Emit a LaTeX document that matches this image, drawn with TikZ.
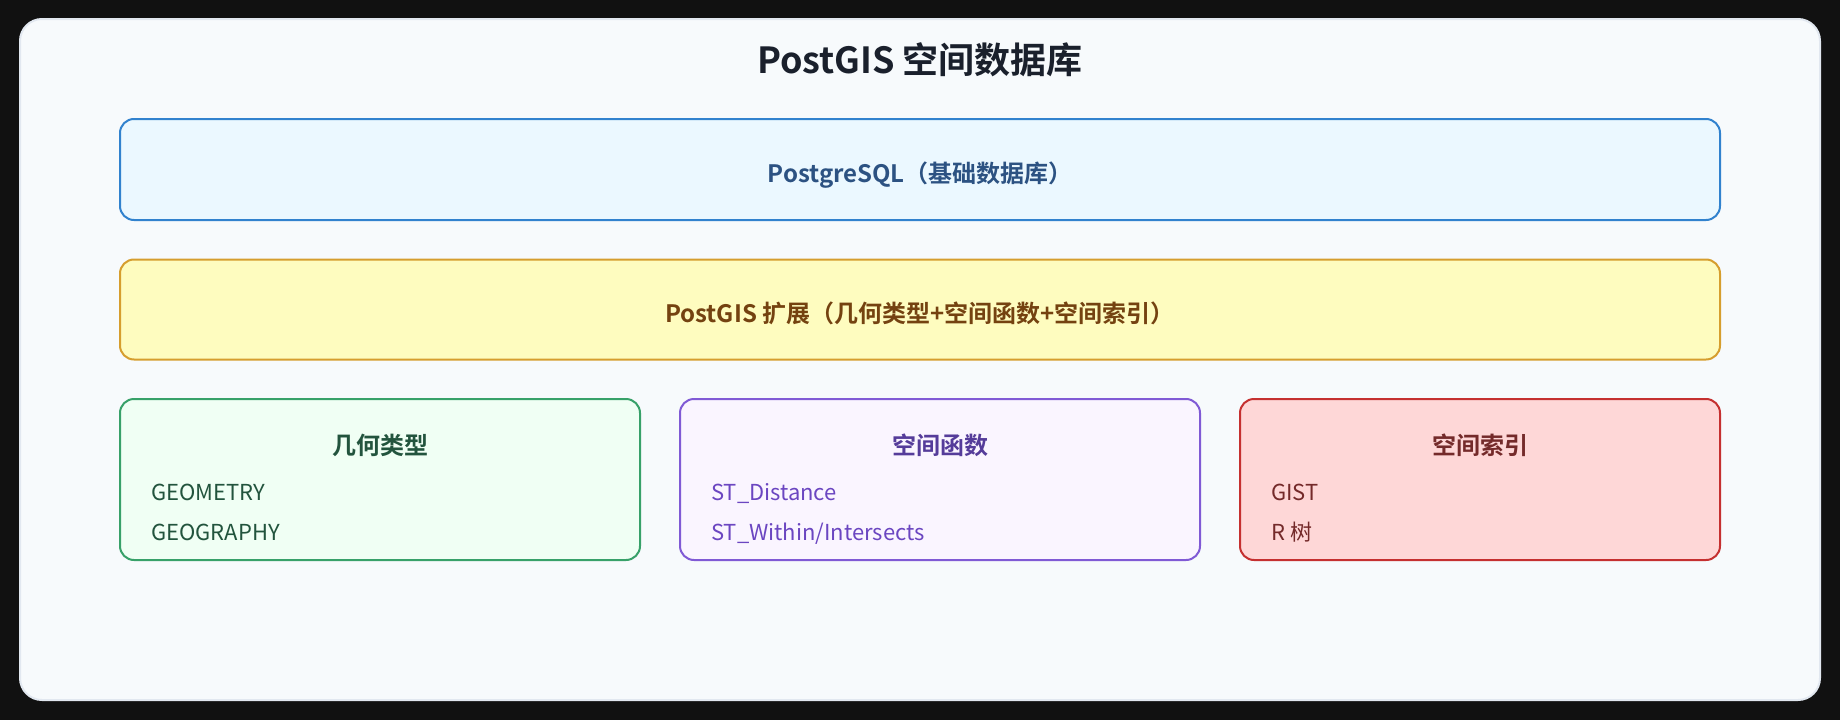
\documentclass[tikz,border=0pt]{standalone}
\usepackage{fontspec}
\setmainfont{Noto Sans CJK SC}[BoldFont={Noto Sans CJK SC Bold}]
\usetikzlibrary{positioning}

\definecolor{pagedark}{HTML}{111111}
\definecolor{cardfill}{HTML}{F7FAFC}
\definecolor{cardline}{HTML}{E2E8F0}
\definecolor{titletext}{HTML}{1A202C}
\definecolor{pgfill}{HTML}{EBF8FF}
\definecolor{pgline}{HTML}{3182CE}
\definecolor{pgtext}{HTML}{2C5282}
\definecolor{extfill}{HTML}{FEFCBF}
\definecolor{extline}{HTML}{D69E2E}
\definecolor{exttext}{HTML}{744210}
\definecolor{geomfill}{HTML}{F0FFF4}
\definecolor{geomline}{HTML}{38A169}
\definecolor{geomtext}{HTML}{22543D}
\definecolor{funcfill}{HTML}{FAF5FF}
\definecolor{funcline}{HTML}{805AD5}
\definecolor{functitle}{HTML}{553C9A}
\definecolor{functext}{HTML}{6B46C1}
\definecolor{idxfill}{HTML}{FED7D7}
\definecolor{idxline}{HTML}{C53030}
\definecolor{idxtext}{HTML}{742A2A}

\begin{document}
\begin{tikzpicture}[x=1pt, y=-1pt,
			layer/.style={draw, rectangle, rounded corners=14pt, line width=2pt, minimum width=1600pt, minimum height=100pt, text height=26pt, text depth=0pt, font=\fontsize{24}{28}\selectfont\bfseries},
			part/.style={draw, rectangle, rounded corners=14pt, line width=2pt, minimum width=520pt, minimum height=161pt},
			parttitle/.style={font=\fontsize{24}{28}\selectfont\bfseries},
			item/.style={anchor=base west, inner sep=0pt, font=\fontsize{22}{26}\selectfont}]
			\fill[pagedark] (0, 0) rectangle (1840, 720);
			\draw[fill=cardfill, draw=cardline, line width=2pt, rounded corners=22pt] (20, 19) rectangle (1820, 700);
			
			\node[text=titletext, font=\fontsize{36}{42}\selectfont\bfseries](title) at (920, 60) {PostGIS 空间数据库};
			
			\node[layer, fill=pgfill, draw=pgline, text=pgtext, minimum height=101pt](postgres) at (920, 169.5) {PostgreSQL（基础数据库）};
			
			\node[layer, fill=extfill, draw=extline, text=exttext](extension) at (920, 309.5) {PostGIS 扩展（几何类型+空间函数+空间索引）};
			
			\node[part, fill=geomfill, draw=geomline](geometry) at (380, 479.5) {};
			\node[parttitle, text=geomtext](geomtitle) at (380, 445) {几何类型};
			\node[item, text=geomtext](geomitem1) at (151, 500) {GEOMETRY};
			\node[item, text=geomtext](geomitem2) at (151, 540) {GEOGRAPHY};
			
			\node[part, fill=funcfill, draw=funcline](functions) at (940, 479.5) {};
			\node[parttitle, text=functitle](functitle) at (940, 445) {空间函数};
			\node[item, text=functext](funcitem1) at (711, 500) {ST\_Distance};
			\node[item, text=functext](funcitem2) at (711, 540) {ST\_Within/Intersects};
			
			\node[part, fill=idxfill, draw=idxline, minimum width=480pt](index) at (1480, 479.5) {};
			\node[parttitle, text=idxtext](idxtitle) at (1480, 445) {空间索引};
			\node[item, text=idxtext](idxitem1) at (1271, 500) {GIST};
			\node[item, text=idxtext](idxitem2) at (1271, 540) {R 树};
			\end{tikzpicture}
\end{document}
